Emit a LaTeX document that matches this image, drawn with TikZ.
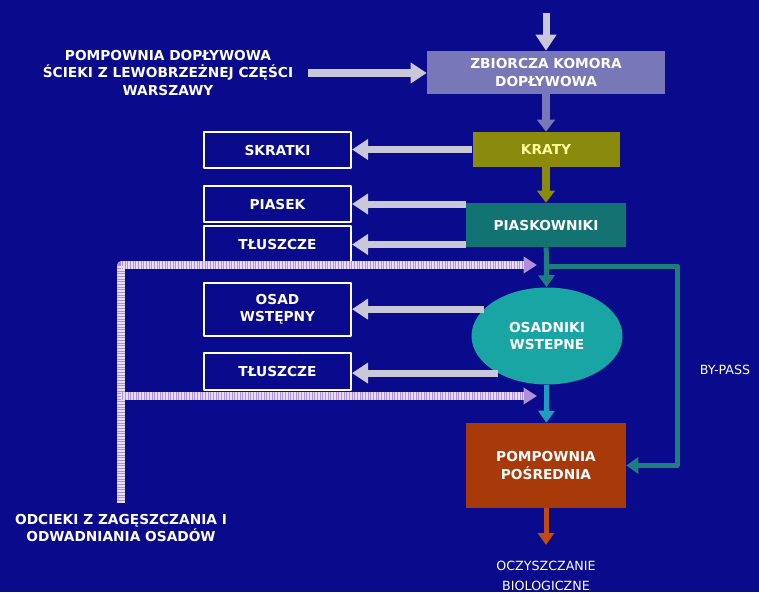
\documentclass[tikz,border=0pt]{standalone}
\usepackage{fontspec}
\setmainfont{DejaVu Sans}
\usepackage{tikz}
\usetikzlibrary{arrows.meta,shapes.geometric}
\definecolor{navy}{HTML}{0A0A8C}
\definecolor{pale}{HTML}{C8C8D8}
\definecolor{slate}{HTML}{7878B8}
\definecolor{olive}{HTML}{8A8A0C}
\definecolor{lemon}{HTML}{FFFF99}
\definecolor{teal}{HTML}{137272}
\definecolor{tealln}{HTML}{1E7E7E}
\definecolor{aqua}{HTML}{1AA5A5}
\definecolor{sky}{HTML}{1E9EBE}
\definecolor{rust}{HTML}{A83A0A}
\definecolor{brick}{HTML}{C04A10}
\definecolor{lilac}{HTML}{B090D8}
\tikzset{fig/.style={line join=round,x=0.75pt,y=-0.75pt,font=\fontsize{10.3}{13}\selectfont\bfseries},
  unit/.style={text=white,align=center,inner sep=0pt},
  bin/.style={unit,draw=white,line width=1.5pt,minimum width=110.25pt},
  feed/.style={draw=pale,line width=5.25pt,-{Triangle[width=15pt,length=12pt]}},
  flow/.style={draw=tealln,line width=3.75pt,-{Triangle[width=12pt,length=9pt]}},
  hatch/.style={draw=lilac,line width=5.5pt,-{Triangle[width=12pt,length=10pt]},
    postaction={draw=white!70!lilac,line width=5.5pt,dash pattern=on 0.6pt off 0.6pt,-,shorten >=10pt}}}

\begin{document}
\begin{tikzpicture}[fig]
  \fill[navy](0,0)rectangle(759,592);
  % process line
  \node[unit,fill=slate,minimum width=178.5pt,minimum height=32.25pt](zb)at(546,72.5){ZBIORCZA KOMORA\\DOPŁYWOWA};
  \node[unit,fill=olive,text=lemon,minimum width=110.25pt,minimum height=26.25pt](kr)at(546,149.5){KRATY};
  \node[unit,fill=teal,minimum width=120pt,minimum height=33pt](pk)at(546,225){PIASKOWNIKI};
  \node[ellipse,unit,fill=aqua,minimum width=113.25pt,minimum height=72.75pt](os)at(547,336){OSADNIKI\\WSTEPNE};
  \node[unit,fill=rust,minimum width=120pt,minimum height=63.75pt](pp)at(546,465.5){POMPOWNIA\\POŚREDNIA};
  % by-products
  \node[bin,minimum height=27pt](sk)at(277.5,150){SKRATKI};
  \node[bin,minimum height=27pt](ps)at(277.5,204){PIASEK};
  \node[bin,minimum height=27.75pt](t1)at(277.5,244.5){TŁUSZCZE};
  \node[bin,minimum height=39.75pt](ow)at(277.5,309.5){OSAD\\WSTĘPNY};
  \node[bin,minimum height=27.75pt](t2)at(277.5,371.5){TŁUSZCZE};
  % labels
  \node[unit](in)at(168,73){POMPOWNIA DOPŁYWOWA\\ŚCIEKI Z LEWOBRZEŻNEJ CZĘŚCI\\WARSZAWY};
  \node[unit](odc)at(121,528){ODCIEKI Z ZAGĘSZCZANIA I\\ODWADNIANIA OSADÓW};
  \node[unit,font=\fontsize{9.5}{11.6}\selectfont](bp)at(725,370){BY-PASS};
  \node[unit,font=\fontsize{9.5}{14.5}\selectfont](bio)at(546,576){OCZYSZCZANIE\\BIOLOGICZNE};
  \coordinate(src)at(546,13);\coordinate(out)at(546,545);\coordinate(byp)at(546,266);
  \coordinate(h1)at(537,265);\coordinate(h2)at(537,396);
  \draw[feed](src)--(zb);\draw[feed,shorten <=11pt](in.east)--(in.east-|zb.west);
  \draw[feed,draw=slate,line width=6.5pt,-{Triangle[width=13pt,length=9pt]}](zb)--(kr);
  \draw[feed](kr.west)--(kr.west-|sk.east);
  \draw[feed,draw=olive,line width=6.5pt,-{Triangle[width=13pt,length=9pt]}](kr)--(pk);
  \draw[feed](pk.west|-ps.east)--(ps.east);\draw[feed](pk.west|-t1.east)--(t1.east);
  \draw[flow](pk)--(os);\draw[flow](byp)--++(131,0)|-(pp);
  \draw[feed](os.157)--(os.157-|ow.east);\draw[feed](os.217)--(os.217-|t2.east);
  \draw[flow,draw=sky](os)--(pp);\draw[flow,draw=brick](pp)--(out);
  \draw[hatch,shorten <=8pt](odc.north)|-(h1);\draw[hatch](odc.north|-h2)--(h2);
\end{tikzpicture}
\end{document}
